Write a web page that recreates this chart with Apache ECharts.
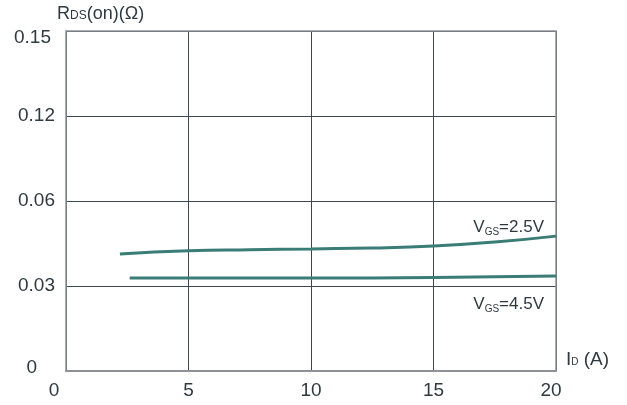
<!DOCTYPE html>
<html>
<head>
<meta charset="utf-8">
<script src="https://cdn.jsdelivr.net/npm/echarts@6/dist/echarts.min.js"></script>
<style>
  html, body { margin: 0; padding: 0; background: #fff; }
  #chart { width: 627px; height: 405px; }
</style>
</head>
<body>
<div id="chart"></div>
<script>
// Drain current (A)
const idVgs25 = [2.2, 5, 7.5, 10, 12.5, 15, 17.5, 20];
const rdsVgs25 = [0.0413, 0.0424, 0.0428, 0.0431, 0.0434, 0.0441, 0.0455, 0.0476];
const idVgs45 = [2.6, 5, 10, 15, 20];
const rdsVgs45 = [0.0328, 0.0328, 0.0328, 0.0330, 0.0335];

// Tick labels printed on the vertical axis, bottom to top
const yTickLabels = ['0', '0.03', '0.06', '0.12', '0.15'];
const xTickLabels = ['0', '5', '10', '15', '20'];

const seriesNames = ['VGS=2.5V', 'VGS=4.5V'];

const FONT = 'Liberation Sans, Arial, sans-serif';
const TXT = '#2e3a40';
const LINE = '#3a7c76';
const FS = 19;

const chart = echarts.init(document.getElementById('chart'), null, { renderer: 'canvas' });

function pair(xs, ys) { return xs.map((x, i) => [x, ys[i]]); }

const vgsRich = {
  v: { fontSize: 17, fontFamily: FONT, color: TXT },
  s: { fontSize: 10, fontFamily: FONT, color: TXT, verticalAlign: 'bottom', padding: [0, 0, -1, 0] }
};

chart.setOption({
  animation: false,
  grid: { left: 66, right: 71, top: 31, bottom: 34 },
  title: {
    text: '{r|R}{s|DS}{r|(on)(Ω)}',
    left: 52, top: 0,
    textStyle: {
      rich: {
        r: { fontSize: 18, fontFamily: FONT, color: TXT, fontWeight: 'normal' },
        s: { fontSize: 12, fontFamily: FONT, color: TXT, fontWeight: 'normal', padding: [3, 0, 0, 0] }
      }
    }
  },
  xAxis: {
    type: 'value', min: 0, max: 20, interval: 5,
    name: '{i|I}{s|D}{a| (A)}',
    nameLocation: 'end', nameGap: 10,
    nameTextStyle: {
      verticalAlign: 'bottom', padding: [0, 0, 2, 0],
      rich: {
        i: { fontSize: FS, fontFamily: FONT, color: TXT },
        s: { fontSize: 10, fontFamily: FONT, color: TXT, padding: [6, 0, 0, 0] },
        a: { fontSize: FS, fontFamily: FONT, color: TXT }
      }
    },
    axisLine: { show: true, lineStyle: { color: '#8e9396', width: 2 } },
    axisTick: { show: false },
    splitLine: { show: true, lineStyle: { color: '#3a474e', width: 1 } },
    axisLabel: {
      fontSize: FS, fontFamily: FONT, color: TXT, margin: 10,
      formatter: v => {
        const i = Math.round(v / 5);
        if (i === 0) return '{first|' + xTickLabels[i] + '}';
        if (i === xTickLabels.length - 1) return '{last|' + xTickLabels[i] + '}';
        return xTickLabels[i];
      },
      rich: {
        first: { fontSize: FS, fontFamily: FONT, color: TXT, padding: [0, 24, 0, 0] },
        last: { fontSize: FS, fontFamily: FONT, color: TXT, padding: [0, 10, 0, 0] }
      }
    }
  },
  yAxis: {
    type: 'value', min: 0, max: 0.12, interval: 0.03,
    axisLine: { show: true, lineStyle: { color: '#3a474e', width: 1 } },
    axisTick: { show: false },
    splitLine: { show: true, lineStyle: { color: '#3a474e', width: 1 } },
    axisLabel: {
      fontSize: FS, fontFamily: FONT, color: TXT, margin: 11,
      formatter: v => {
        const i = Math.round(v / 0.03);
        if (i === 0) return '{bot|' + yTickLabels[i] + '}';
        if (i === yTickLabels.length - 1) return '{top|' + yTickLabels[i] + '}';
        return yTickLabels[i];
      },
      rich: {
        top: { fontSize: FS, fontFamily: FONT, color: TXT, padding: [13, 4, 0, 0] },
        bot: { fontSize: FS, fontFamily: FONT, color: TXT, padding: [0, 18, 6, 0] }
      }
    }
  },
  graphic: [{
    type: 'rect', silent: true, z: 1,
    shape: { x: 66, y: 31, width: 490, height: 340 },
    style: { fill: 'none', stroke: '#8e9396', lineWidth: 1.5 }
  }],
  series: [
    {
      name: seriesNames[0], type: 'line', smooth: true, symbol: 'none',
      data: pair(idVgs25, rdsVgs25),
      lineStyle: { color: LINE, width: 3 },
      endLabel: {
        show: true, align: 'right', verticalAlign: 'bottom', offset: [-20, 0],
        formatter: '{v|V}{s|GS}{v|=2.5V}', rich: vgsRich
      },
      z: 3
    },
    {
      name: seriesNames[1], type: 'line', smooth: true, symbol: 'none',
      data: pair(idVgs45, rdsVgs45),
      lineStyle: { color: LINE, width: 3 },
      endLabel: {
        show: true, align: 'right', verticalAlign: 'top', offset: [-20, 20],
        formatter: '{v|V}{s|GS}{v|=4.5V}', rich: vgsRich
      },
      z: 3
    }
  ]
});
</script>
</body>
</html>
